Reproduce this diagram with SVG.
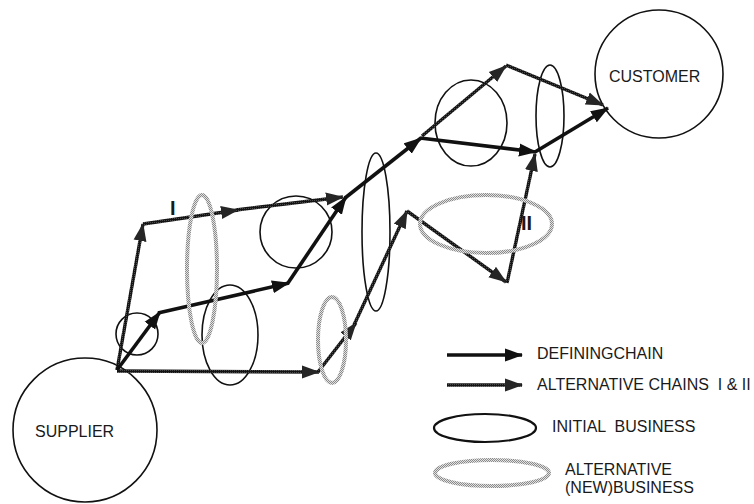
<svg xmlns="http://www.w3.org/2000/svg" width="754" height="504" viewBox="0 0 754 504">
<style>
  text { font-family: "Liberation Sans", Arial, sans-serif; font-size: 16px; fill: #1a1a1a; white-space: pre; }
  .lbl { font-size: 20px; font-weight: bold; }
  .node { fill: none; stroke: #111; stroke-width: 1.6; }
  .alt { fill: none; stroke: url(#grayTex); stroke-width: 4; }
  .def { stroke: #111; stroke-width: 3.6; fill: none; marker-end: url(#arrDef); }
  .ach { stroke: url(#darkTex); stroke-width: 3.4; fill: none; marker-end: url(#arrAlt); }
</style>
<defs>
  <pattern id="grayTex" width="2" height="2" patternUnits="userSpaceOnUse">
    <rect width="2" height="2" fill="#e2e2e2"/>
    <rect width="1" height="1" fill="#8a8a8a"/>
    <rect x="1" y="1" width="1" height="1" fill="#8a8a8a"/>
  </pattern>
  <pattern id="darkTex" width="2" height="2" patternUnits="userSpaceOnUse">
    <rect width="2" height="2" fill="#141414"/>
    <rect width="1" height="1" fill="#4a4a4a"/>
  </pattern>
  <marker id="arrDef" viewBox="-18 -7 18 14" refX="-1" refY="0" markerWidth="18" markerHeight="14" markerUnits="userSpaceOnUse" orient="auto">
    <path d="M0,0 L-18,-6.5 L-18,6.5 Z" fill="#111"/>
  </marker>
  <marker id="arrAlt" viewBox="-18 -7 18 14" refX="-1" refY="0" markerWidth="18" markerHeight="14" markerUnits="userSpaceOnUse" orient="auto">
    <path d="M0,0 L-18,-6.5 L-18,6.5 Z" fill="#262626"/>
  </marker>
</defs>

<g id="supplier">
  <circle class="node" cx="85" cy="430" r="72"/>
  <text x="35" y="437">SUPPLIER</text>
</g>
<g id="customer">
  <circle class="node" cx="659" cy="74" r="64"/>
  <text x="609" y="82">CUSTOMER</text>
</g>

<g id="initial-businesses">
  <ellipse id="ib1" class="node" cx="137" cy="334" rx="21" ry="21"/>
  <ellipse id="ib2" class="node" cx="230" cy="335" rx="28" ry="50"/>
  <ellipse id="ib3" class="node" cx="296" cy="232" rx="36" ry="36"/>
  <ellipse id="ib4" class="node" cx="376" cy="232" rx="14" ry="79"/>
  <ellipse id="ib5" class="node" cx="471" cy="123" rx="36" ry="43"/>
  <ellipse id="ib6" class="node" cx="550" cy="116" rx="14" ry="51"/>
</g>

<g id="connectors">
  <!-- alternative chain I -->
  <line class="ach" x1="117" y1="370" x2="143" y2="224"/>
  <line class="ach" x1="143" y1="224" x2="238" y2="210"/>
  <line class="ach" x1="236" y1="210" x2="343" y2="197"/>
  <line class="ach" x1="422" y1="136" x2="506" y2="66"/>
  <line class="ach" x1="506" y1="65" x2="603" y2="105"/>
  <!-- alternative chain II -->
  <line class="ach" x1="117" y1="371" x2="319" y2="372"/>
  <line class="ach" x1="318" y1="372" x2="356" y2="323"/>
  <line class="ach" x1="354" y1="325" x2="407" y2="211"/>
  <line class="ach" x1="407" y1="211" x2="506" y2="282"/>
  <line class="ach" x1="507" y1="283" x2="535" y2="154"/>
  <!-- defining chain -->
  <line class="def" x1="117" y1="370" x2="160" y2="312"/>
  <line class="def" x1="158" y1="313" x2="289" y2="283"/>
  <line class="def" x1="288" y1="283" x2="346" y2="197"/>
  <line class="def" x1="345" y1="198" x2="421" y2="138"/>
  <line class="def" x1="420" y1="138" x2="536" y2="152"/>
  <line class="def" x1="535" y1="152" x2="608" y2="108"/>
</g>

<g id="alternative-businesses">
  <ellipse id="ab1" class="alt" cx="202" cy="269" rx="15" ry="74"/>
  <ellipse id="ab2" class="alt" cx="332" cy="340" rx="14" ry="43"/>
  <ellipse id="ab3" class="alt" cx="486" cy="224" rx="66" ry="29"/>
</g>

<g id="labels">
  <text class="lbl" x="170" y="215">I</text>
  <text class="lbl" x="521" y="230">II</text>
</g>

<g id="legend">
  <line class="def" x1="447" y1="355" x2="522" y2="355"/>
  <text x="537" y="359">DEFININGCHAIN</text>
  <line class="ach" x1="447" y1="385" x2="522" y2="385"/>
  <text x="537" y="390">ALTERNATIVE CHAINS  I &amp; II</text>
  <ellipse class="node" cx="485" cy="428" rx="51" ry="14" style="stroke-width:2.2"/>
  <text x="552" y="432">INITIAL  BUSINESS</text>
  <ellipse class="alt" cx="492" cy="473" rx="57" ry="13"/>
  <text x="565" y="475">ALTERNATIVE</text>
  <text x="565" y="493">(NEW)BUSINESS</text>
</g>
</svg>
